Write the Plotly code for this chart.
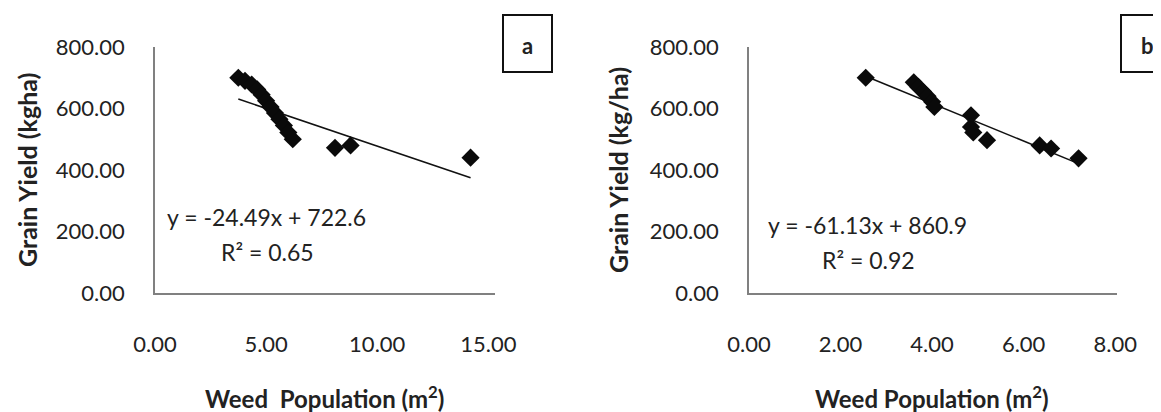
import plotly.graph_objects as go

# page body has an 8px margin, so the figure is sized to fit the 1161x412 window
OFF = 8
W, H = 1161 - OFF, 412 - OFF

# ---- data ----
a_x = [3.75, 4.05, 4.35, 4.6, 4.8, 5.0, 5.2, 5.4, 5.6, 5.8, 6.0, 6.2, 8.1, 8.8, 14.2]
a_y = [700, 690, 678, 662, 645, 625, 605, 585, 565, 545, 522, 500, 472, 480, 440]
a_slope, a_intercept = -24.49, 722.6
a_eq = "y = -24.49x + 722.6"
a_r2 = "R² = 0.65"

b_x = [2.55, 3.6, 3.7, 3.8, 3.9, 4.0, 4.05, 4.85, 4.85, 4.9, 5.2, 6.35, 6.6, 7.2]
b_y = [700, 685, 670, 655, 640, 622, 605, 578, 540, 522, 497, 480, 470, 438]
b_slope, b_intercept = -61.13, 860.9
b_eq = "y = -61.13x + 860.9"
b_r2 = "R² = 0.92"

y_ticks = [0, 200, 400, 600, 800]
a_xticks = [0, 5, 10, 15]
b_xticks = [0, 2, 4, 6, 8]

def px(x):
    return (x - OFF) / W

def py(y):
    return 1 - (y - OFF) / H

FONT = "Lato"
TXT = "#222222"

fig = go.Figure()

def trend(xs, m, c):
    x0, x1 = min(xs), max(xs)
    return [x0, x1], [m * x0 + c, m * x1 + c]

tx, ty = trend(a_x, a_slope, a_intercept)
fig.add_trace(go.Scatter(x=tx, y=ty, mode="lines", line=dict(color="#111", width=1.6),
                         xaxis="x", yaxis="y", showlegend=False))
fig.add_trace(go.Scatter(x=a_x, y=a_y, mode="markers",
                         marker=dict(symbol="diamond", size=14, color="#0a0a0a"),
                         xaxis="x", yaxis="y", showlegend=False))

tx, ty = trend(b_x, b_slope, b_intercept)
fig.add_trace(go.Scatter(x=tx, y=ty, mode="lines", line=dict(color="#111", width=1.6),
                         xaxis="x2", yaxis="y2", showlegend=False))
fig.add_trace(go.Scatter(x=b_x, y=b_y, mode="markers",
                         marker=dict(symbol="diamond", size=14, color="#0a0a0a"),
                         xaxis="x2", yaxis="y2", showlegend=False))

ydom = [py(293), py(47)]
axis_common = dict(showgrid=False, zeroline=False, showline=True, linecolor="#808080",
                   linewidth=1.5, ticks="", automargin=False,
                   tickfont=dict(family=FONT, size=22, color=TXT))

fig.update_layout(
    width=W, height=H, margin=dict(l=0, r=0, t=0, b=0, autoexpand=False),
    paper_bgcolor="white", plot_bgcolor="white",
    xaxis=dict(domain=[px(155), px(495)], range=[0, 15.3], anchor="y",
               tickvals=a_xticks, ticktext=[f"{v:.2f}" for v in a_xticks],
               ticklabelstandoff=31, **axis_common),
    yaxis=dict(domain=ydom, range=[0, 800], anchor="x",
               tickvals=y_ticks, ticktext=[f"{v:.2f}" for v in y_ticks],
               ticklabelstandoff=24, **axis_common),
    xaxis2=dict(domain=[px(749), px(1117)], range=[0, 8.04], anchor="y2",
                tickvals=b_xticks, ticktext=[f"{v:.2f}" for v in b_xticks],
                ticklabelstandoff=31, **axis_common),
    yaxis2=dict(domain=ydom, range=[0, 800], anchor="x2",
                tickvals=y_ticks, ticktext=[f"{v:.2f}" for v in y_ticks],
                ticklabelstandoff=24, **axis_common),
)

ann = []
def A(x, y, text, size=20, bold=False, angle=0):
    t = f"<b>{text}</b>" if bold else text
    ann.append(dict(x=px(x), y=py(y), xref="paper", yref="paper", text=t, showarrow=False,
                    textangle=angle, xanchor="center", yanchor="middle",
                    font=dict(family=FONT, size=size, color=TXT)))

A(27, 170, "Grain Yield (kgha)", size=25, bold=True, angle=-90)
A(618, 170, "Grain Yield (kg/ha)", size=25, bold=True, angle=-90)
A(324, 397, "Weed  Population (m<sup>2</sup>)", size=24, bold=True)
A(932, 397, "Weed Population (m<sup>2</sup>)", size=24, bold=True)
A(266, 217, a_eq, size=23)
A(267, 252, a_r2, size=23)
A(867, 225, b_eq, size=23)
A(868, 260, b_r2, size=23)
A(527, 46, "a", size=22, bold=True)
A(1147, 46, "b", size=22, bold=True)
fig.update_layout(annotations=ann)

fig.add_shape(type="rect", xref="paper", yref="paper", x0=px(503), x1=px(552),
              y0=py(72), y1=py(15), line=dict(color="#111", width=2))
fig.add_shape(type="rect", xref="paper", yref="paper", x0=px(1121), x1=px(1175),
              y0=py(72), y1=py(15), line=dict(color="#111", width=2))

fig.write_html("out.html")
